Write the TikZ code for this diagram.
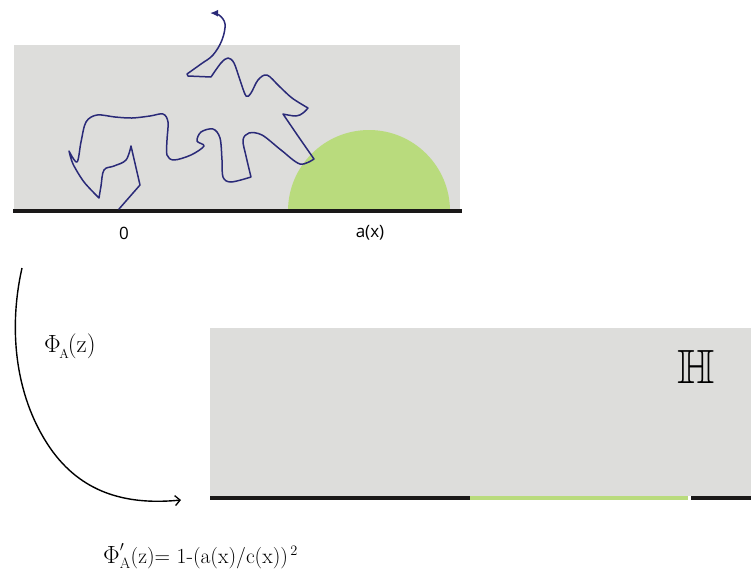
\documentclass[tikz,border=0pt]{standalone}
\usepackage{amssymb}
\usepackage{graphicx}
\usepackage{fontspec}
\newfontfamily\labelfont{Open Sans}
\usetikzlibrary{arrows.meta}
\definecolor{bgrey}{HTML}{DDDDDB}
\definecolor{dgreen}{HTML}{B9DB7D}
\definecolor{walkblue}{HTML}{2A2A78}
\definecolor{axisblack}{HTML}{1A1818}
\tikzset{
  region/.style={fill=bgrey, draw=none},
  axis/.style={draw=axisblack, line width=3.2pt},
  walk/.style={draw=walkblue, line width=1.5pt, line join=round, line cap=round},
  maparrow/.style={draw=black, line width=1.4pt, -{Straight Barb[length=5pt,width=10pt,line width=1.3pt]}},
  sanslabel/.style={font=\labelfont\fontsize{17}{20}\selectfont, inner sep=0pt},
}
\begin{document}
\begin{tikzpicture}[x=1pt,y=-1pt]
\useasboundingbox (0,0) rectangle (751,579);
% upper domain
\fill[region] (14,45) rectangle (460,211);
\fill[dgreen] (288,211) arc[start angle=180, end angle=360, radius=81] -- cycle;
\draw[axis] (13,211) -- (462,211);
\node[sanslabel] (zero) at (124,233) {0};
\node[sanslabel] (ax) at (370,233) {a(x)};
% random walk
\coordinate (w0) at (119,209);
\coordinate (wend) at (207,13);
\draw[walk, -{Latex[length=8pt,width=7pt]}] (w0) -- (140,185) -- (131,146)
  -- plot[smooth, tension=0.6] coordinates {(131,146) (126,160) (114,166) (104,170) (101,186) (99,198)}
  -- plot[smooth, tension=0.5] coordinates {(99,198) (84,182) (73,164) (69,151)}
  -- plot[smooth, tension=0.55] coordinates {(69,151) (77,162) (81,142) (86,122) (97,115) (115,117) (132,118) (150,116) (163,114) (168,122) (167,140) (167,155) (174,160) (191,155) (204,146) (197,141) (201,132) (213,129) (220,138) (222,160) (223,177) (231,182) (251,177)}
  -- plot[smooth, tension=0.55] coordinates {(251,177) (246,156) (243,140) (249,133) (262,135) (281,150) (300,164) (314,159)}
  -- plot[smooth, tension=0.4] coordinates {(314,159) (298,136) (283,114)}
  -- plot[smooth, tension=0.6] coordinates {(283,114) (296,116) (303,113) (308,108)}
  -- plot[smooth, tension=0.55] coordinates {(308,108) (292,98) (279,86) (267,75) (258,80) (251,93) (246,96) (240,80) (234,63) (228,58) (221,63) (211,77)}
  -- (188,76) -- (187,74)
  -- plot[smooth, tension=0.6] coordinates {(187,74) (201,64) (213,55) (222,40) (225,24) (219,15) (210,13)};
% lower domain
\fill[region] (210,328) rectangle (751,496);
\draw[axis] (210,498) -- (470,498);
\draw[draw=dgreen, line width=3.2pt] (470,498) -- (688,498);
\draw[axis] (691,498) -- (751,498);
\node[inner sep=0pt, font=\fontsize{48}{50}\selectfont] (H) at (696,367) {$\mathbb{H}$};
% map arrow
\coordinate (mstart) at (22,268);
\coordinate (mend) at (181,500);
\draw[maparrow] (mstart) .. controls (8,330) and (15,400) .. (53,452) .. controls (85,495) and (130,505) .. (mend);
\node[anchor=base west, inner sep=0pt, font=\fontsize{25}{28}\selectfont] (phi) at (44,352)
  {{\fontsize{30}{32}\selectfont$\Phi$}\kern-1.5pt\raisebox{-6pt}{\fontsize{13}{14}\selectfont A}\kern-1pt(z)};
\node[anchor=base west, inner sep=0pt, font=\fontsize{21.5}{25}\selectfont] (deriv) at (103,563)
  {${\scalebox{1.2}{$\Phi$}}'_{\mathrm{A}}$(z)= 1-(a(x)/c(x))$^{\,2}$};
\end{tikzpicture}
\end{document}
